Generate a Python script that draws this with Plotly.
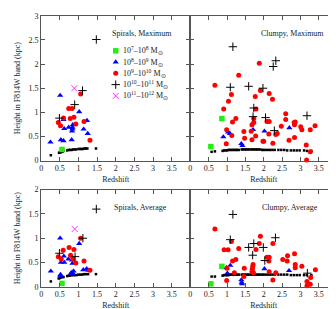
import plotly.graph_objects as go

W, H = 336, 309
FONT = "Liberation Serif"

# ---------------- data ----------------
# Spirals, Maximum (top-left)
tl_green_z = [0.56]; tl_green_h = [0.23]
tl_blue_z = [0.51, 1.02, 0.60, 1.23, 0.85, 0.74, 0.84, 0.84, 0.62, 1.14, 0.83, 1.25, 0.53, 0.60, 0.82, 0.25]
tl_blue_h = [1.35, 1.01, 0.85, 0.83, 0.74, 0.69, 0.69, 0.65, 0.66, 0.65, 0.61, 0.56, 0.43, 0.41, 0.43, 0.38]
tl_red_z = [1.06, 0.74, 0.83, 0.60, 0.78, 0.88, 0.46, 0.93, 1.15, 0.52, 1.31]
tl_red_h = [1.38, 1.08, 1.08, 0.88, 0.87, 0.90, 0.79, 0.76, 0.81, 0.72, 0.42]
tl_plus_z = [1.48, 1.11, 0.90, 0.49]
tl_plus_h = [2.51, 1.45, 1.16, 0.88]
tl_mag_z = [0.89]; tl_mag_h = [1.50]
tl_res_z = [0.26, 0.48, 0.50, 0.52, 0.54, 0.56, 0.58, 0.60, 0.70, 0.74, 0.78, 0.82, 0.86, 0.90, 0.94, 1.00, 1.04, 1.08, 1.12, 1.16, 1.20, 1.24, 1.47]
tl_res_h = [0.11, 0.16, 0.17, 0.17, 0.18, 0.19, 0.19, 0.20, 0.21, 0.22, 0.22, 0.22, 0.23, 0.23, 0.23, 0.24, 0.24, 0.24, 0.24, 0.25, 0.25, 0.25, 0.25]

# Clumpy, Maximum (top-right)
tr_green_z = [0.86, 0.56]; tr_green_h = [0.87, 0.29]
tr_blue_z = [1.71, 1.03, 1.08, 0.90, 1.39, 1.42, 2.70, 2.02]
tr_blue_h = [0.64, 0.59, 0.56, 0.49, 0.35, 0.31, 0.68, 0.61]
tr_red_z = [1.88, 1.32, 0.67, 1.91, 1.12, 1.77, 1.04, 0.91, 1.79, 1.24, 1.15, 1.73, 1.73, 1.68, 0.99, 1.46,
            1.13, 1.48, 1.78, 1.68, 1.98, 0.98, 1.66, 2.15, 2.24, 2.09, 2.15, 2.48, 2.60, 2.60, 2.83, 2.86,
            2.84, 3.01, 3.04, 3.40, 3.27, 2.84, 2.69, 2.37, 2.33, 2.14, 2.25, 2.00, 3.16, 3.27, 3.17]
tr_red_h = [2.02, 1.77, 1.56, 1.45, 1.37, 1.33, 1.23, 1.07, 1.07, 0.87, 0.80, 0.87, 0.79, 0.74, 0.64, 0.60,
            0.52, 0.46, 0.51, 0.43, 0.40, 0.35, 0.61, 1.39, 1.27, 0.81, 0.81, 0.71, 0.97, 0.85, 0.79, 0.80,
            0.74, 0.70, 0.64, 0.72, 0.64, 0.48, 0.42, 0.56, 0.54, 0.55, 0.36, 0.40, 0.32, 0.18, 0.01]
tr_plus_z = [1.16, 2.26, 2.33, 1.09, 1.59, 1.98, 1.73, 1.71, 2.05, 2.29, 3.18]
tr_plus_h = [2.36, 1.95, 2.07, 1.52, 1.54, 1.50, 1.09, 0.91, 0.89, 0.62, 0.93]
tr_res_z = [0.58, 0.67, 0.88, 0.92, 0.96, 1.00, 1.04, 1.08, 1.12, 1.16, 1.20, 1.24, 1.28, 1.32, 1.40, 1.44, 1.48,
            1.52, 1.56, 1.60, 1.66, 1.70, 1.74, 1.78, 1.82, 1.86, 1.90, 1.96, 2.00, 2.06, 2.12, 2.18, 2.24,
            2.30, 2.40, 2.48, 2.56, 2.64, 2.74, 2.82, 2.90, 2.98, 3.10, 3.18, 3.30]
tr_res_h = [0.18, 0.19, 0.20, 0.21, 0.21, 0.21, 0.22, 0.22, 0.22, 0.22, 0.22, 0.22, 0.22, 0.22, 0.23, 0.23, 0.23,
            0.23, 0.23, 0.23, 0.23, 0.23, 0.23, 0.23, 0.23, 0.23, 0.23, 0.22, 0.22, 0.22, 0.22, 0.22, 0.22,
            0.22, 0.22, 0.22, 0.22, 0.21, 0.21, 0.21, 0.21, 0.21, 0.21, 0.20, 0.20]

# Spirals, Average (bottom-left)
bl_green_z = [0.56]; bl_green_h = [0.07]
bl_blue_z = [0.51, 1.02, 0.61, 0.73, 0.53, 0.62, 0.83, 0.84, 1.13, 1.22, 1.27, 0.26, 0.52, 0.52, 0.83, 0.85, 0.87, 0.80]
bl_blue_h = [1.00, 0.89, 0.63, 0.57, 0.50, 0.50, 0.55, 0.48, 0.35, 0.37, 0.34, 0.32, 0.23, 0.25, 0.30, 0.27, 0.32, 0.28]
bl_red_z = [1.06, 0.75, 0.88, 0.59, 0.79, 0.46, 0.54, 0.85, 0.93, 1.15, 1.31]
bl_red_h = [1.00, 0.81, 0.77, 0.75, 0.65, 0.62, 0.57, 0.57, 0.49, 0.53, 0.34]
bl_plus_z = [1.48, 1.12, 0.49, 0.91]
bl_plus_h = [1.60, 1.00, 0.69, 0.62]
bl_mag_z = [0.90]; bl_mag_h = [1.19]
bl_res_z = [0.26, 0.47, 0.50, 0.53, 0.56, 0.60, 0.70, 0.74, 0.78, 0.82, 0.86, 0.90, 0.95, 1.00, 1.05, 1.10, 1.15, 1.20, 1.26, 1.47]
bl_res_h = [0.11, 0.17, 0.18, 0.19, 0.20, 0.20, 0.22, 0.23, 0.23, 0.24, 0.24, 0.24, 0.24, 0.25, 0.25, 0.25, 0.26, 0.26, 0.26, 0.26]

# Clumpy, Average (bottom-right)
br_green_z = [0.86, 0.56]; br_green_h = [0.42, 0.06]
br_blue_z = [1.09, 0.99, 1.01, 1.39, 1.40, 1.41, 2.02, 2.69]
br_blue_h = [0.44, 0.39, 0.28, 0.14, 0.09, 0.06, 0.37, 0.33]
br_red_z = [0.67, 1.12, 0.92, 1.03, 1.32, 1.91, 1.88, 1.79, 1.15, 1.24, 1.00, 1.47, 1.71, 1.70, 1.69, 1.68, 1.72,
            0.99, 1.46, 1.20, 2.25, 2.09, 2.15, 2.14, 2.52, 2.65, 2.64, 2.84, 2.86, 2.86, 3.04, 3.41, 2.15,
            2.33, 2.25, 3.28, 3.18, 3.27, 3.18]
br_red_h = [1.19, 0.93, 0.76, 0.76, 0.79, 1.04, 0.89, 0.77, 0.53, 0.56, 0.38, 0.38, 0.46, 0.41, 0.36, 0.31, 0.29,
            0.13, 0.21, 0.29, 0.89, 0.61, 0.61, 0.53, 0.56, 0.64, 0.53, 0.68, 0.46, 0.39, 0.42, 0.35, 0.31,
            0.29, 0.14, 0.19, 0.11, 0.05, 0.02]
br_plus_z = [1.16, 1.09, 1.73, 1.59, 1.99, 1.70, 2.32, 2.03, 3.19]
br_plus_h = [1.49, 0.97, 0.89, 0.81, 0.81, 0.65, 1.01, 0.54, 0.28]
br_res_z = [0.58, 0.67, 0.88, 0.92, 0.96, 1.00, 1.04, 1.08, 1.12, 1.16, 1.20, 1.24, 1.28, 1.32, 1.40, 1.44, 1.48,
            1.52, 1.56, 1.60, 1.66, 1.70, 1.74, 1.78, 1.82, 1.86, 1.90, 1.96, 2.00, 2.06, 2.12, 2.18, 2.24,
            2.30, 2.40, 2.48, 2.56, 2.64, 2.74, 2.82, 2.90, 2.98, 3.10, 3.18, 3.30]
br_res_h = [0.21, 0.21, 0.23, 0.24, 0.24, 0.24, 0.24, 0.25, 0.25, 0.25, 0.25, 0.25, 0.25, 0.25, 0.25, 0.25, 0.25,
            0.25, 0.25, 0.25, 0.25, 0.25, 0.25, 0.25, 0.25, 0.25, 0.25, 0.25, 0.25, 0.25, 0.25, 0.25, 0.25,
            0.25, 0.25, 0.25, 0.25, 0.25, 0.24, 0.24, 0.24, 0.24, 0.24, 0.24, 0.24]

panel_titles = ["Spirals, Maximum", "Clumpy, Maximum", "Spirals, Average", "Clumpy, Average"]
legend_labels = ["10<sup>7</sup>–10<sup>8</sup> M<sub>⊙</sub>",
                 "10<sup>8</sup>–10<sup>9</sup> M<sub>⊙</sub>",
                 "10<sup>9</sup>–10<sup>10</sup> M<sub>⊙</sub>",
                 "10<sup>10</sup>–10<sup>11</sup> M<sub>⊙</sub>",
                 "10<sup>11</sup>–10<sup>12</sup> M<sub>⊙</sub>"]
legend_rows = [0, 1, 2, 3, 4]
x_title = "Redshift"
y_title = "Height in F814W band (kpc)"

# ---------------- styles ----------------
GREEN = "#22ee11"; BLUE = "#0000ff"; RED = "#ff0000"; BLACK = "#000000"; MAG = "#ff33ff"
styles = {
    "green": dict(symbol="square", size=5.5, color=GREEN),
    "blue": dict(symbol="triangle-up", size=5.5, color=BLUE),
    "red": dict(symbol="circle", size=5, color=RED),
    "plus": dict(symbol="cross-thin", size=6, color=BLACK, line=dict(width=1, color=BLACK)),
    "mag": dict(symbol="x-thin", size=6, color=MAG, line=dict(width=1, color=MAG)),
    "res": dict(symbol="square", size=2.5, color=BLACK),
}

fig = go.Figure()

def add(z, h, kind, xa, ya):
    fig.add_trace(go.Scatter(x=z, y=h, mode="markers", marker=styles[kind], xaxis=xa, yaxis=ya,
                             showlegend=False, hoverinfo="skip", cliponaxis=False))

panels = [
    ("x", "y", [(tl_res_z, tl_res_h, "res"), (tl_green_z, tl_green_h, "green"), (tl_blue_z, tl_blue_h, "blue"),
                (tl_red_z, tl_red_h, "red"), (tl_plus_z, tl_plus_h, "plus"), (tl_mag_z, tl_mag_h, "mag")]),
    ("x2", "y2", [(tr_res_z, tr_res_h, "res"), (tr_green_z, tr_green_h, "green"), (tr_blue_z, tr_blue_h, "blue"),
                  (tr_red_z, tr_red_h, "red"), (tr_plus_z, tr_plus_h, "plus")]),
    ("x3", "y3", [(bl_res_z, bl_res_h, "res"), (bl_green_z, bl_green_h, "green"), (bl_blue_z, bl_blue_h, "blue"),
                  (bl_red_z, bl_red_h, "red"), (bl_plus_z, bl_plus_h, "plus"), (bl_mag_z, bl_mag_h, "mag")]),
    ("x4", "y4", [(br_res_z, br_res_h, "res"), (br_green_z, br_green_h, "green"), (br_blue_z, br_blue_h, "blue"),
                  (br_red_z, br_red_h, "red"), (br_plus_z, br_plus_h, "plus")]),
]
for xa, ya, series in panels:
    for z, h, k in series:
        add(z, h, k, xa, ya)

# legend markers on a hidden pixel-coordinate axis
leg_kinds = ["green", "blue", "red", "plus", "mag"]
leg_x_px = 107
leg_y0_px, leg_dy_px = 40, 11.6
for r, k in zip(legend_rows, leg_kinds):
    fig.add_trace(go.Scatter(x=[leg_x_px], y=[leg_y0_px + r * leg_dy_px], mode="markers", marker=styles[k],
                             xaxis="x5", yaxis="y5", showlegend=False, hoverinfo="skip"))

# ---------------- layout ----------------
def px_x(p): return p / W
def px_y(p): return 1 - p / H

XL = [px_x(31.5), px_x(182.5)]
XR = [px_x(182.5), px_x(331)]
YT = [px_y(153), px_y(4)]
YB = [px_y(283), px_y(183)]

tickfont = dict(family=FONT, size=8, color="#222")
common = dict(showline=True, linecolor="#555", linewidth=1, mirror="ticks", ticks="inside", ticklen=4,
              tickcolor="#555", showgrid=False, zeroline=False, tickfont=tickfont)

xvals_l = [0, 0.5, 1, 1.5, 2, 2.5, 3, 3.5]
xvals_r = [0, 0.5, 1, 1.5, 2, 2.5, 3, 3.5, 4]
xtitle = dict(text=x_title, font=dict(family=FONT, size=8, color="#222"), standoff=4)
ytitle = dict(text=y_title, font=dict(family=FONT, size=8, color="#222"), standoff=6)

layout = dict(
    width=W, height=H, margin=dict(l=0, r=0, t=0, b=0),
    paper_bgcolor="white", plot_bgcolor="rgba(0,0,0,0)", showlegend=False,
    xaxis=dict(domain=XL, range=[0, 4], anchor="y", tickvals=xvals_l, title=xtitle, **common),
    yaxis=dict(domain=YT, range=[0, 3], anchor="x", tickvals=[0, 0.5, 1, 1.5, 2, 2.5, 3], title=ytitle, **common),
    xaxis2=dict(domain=XR, range=[0, 4], anchor="y2", tickvals=xvals_r, title=xtitle, **common),
    yaxis2=dict(domain=YT, range=[0, 3], anchor="x2", tickvals=[0, 0.5, 1, 1.5, 2, 2.5, 3], showticklabels=False, **common),
    xaxis3=dict(domain=XL, range=[0, 4], anchor="y3", tickvals=xvals_l, title=xtitle, **common),
    yaxis3=dict(domain=YB, range=[0, 2], anchor="x3", tickvals=[0, 0.5, 1, 1.5, 2], title=ytitle, **common),
    xaxis4=dict(domain=XR, range=[0, 4], anchor="y4", tickvals=xvals_r, title=xtitle, **common),
    yaxis4=dict(domain=YB, range=[0, 2], anchor="x4", tickvals=[0, 0.5, 1, 1.5, 2], showticklabels=False, **common),
    xaxis5=dict(domain=[0, 1], range=[0, W], anchor="y5", visible=False, fixedrange=True),
    yaxis5=dict(domain=[0, 1], range=[H, 0], anchor="x5", visible=False, fixedrange=True),
)
fig.update_layout(**layout)

annfont = dict(family=FONT, size=8, color="#222")
title_pos = [(166, 22), (320, 22), (161, 201), (314, 201)]
for t, (xp, yp) in zip(panel_titles, title_pos):
    fig.add_annotation(text=t, x=px_x(xp), y=px_y(yp), xref="paper", yref="paper", xanchor="right",
                       yanchor="middle", showarrow=False, font=annfont)
for r, lab in zip(legend_rows, legend_labels):
    fig.add_annotation(text=lab, x=px_x(112), y=px_y(leg_y0_px + r * leg_dy_px), xref="paper", yref="paper",
                       xanchor="left", yanchor="middle", showarrow=False, font=annfont)

fig.write_html("out.html")
